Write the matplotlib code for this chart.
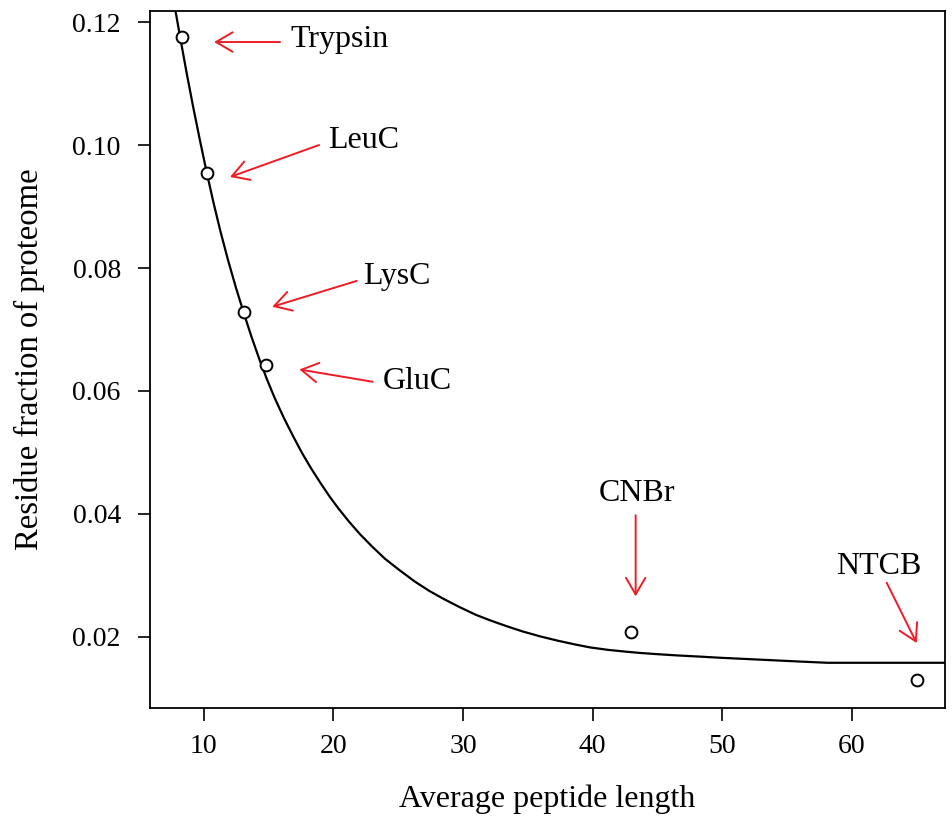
import matplotlib
matplotlib.use('Agg')
import matplotlib.pyplot as plt

plt.rcParams['font.family'] = ['Liberation Serif', 'DejaVu Serif']

# enzymes: average peptide length vs residue fraction
enzymes = ['Trypsin', 'LeuC', 'LysC', 'GluC', 'CNBr', 'NTCB']
pep_len = [8.32, 10.25, 13.12, 14.82, 42.96, 65.0]
res_frac = [0.1176, 0.0954, 0.0728, 0.0642, 0.0208, 0.0130]

# fitted curve
fit_x = [7.84, 8.19, 8.7, 9.2, 9.7, 10.25, 10.76, 11.3, 11.9, 12.5, 13.1, 13.7,
         14.3, 14.89, 15.5, 16.2, 16.92, 17.6, 18.3, 19.0, 19.7, 20.4, 21.2,
         22.07, 23.0, 24.0, 25.15, 26.3, 27.4, 28.5, 29.7, 31.0, 32.1, 33.3,
         34.6, 35.95, 37.3, 38.6, 39.8, 41.2, 42.6, 43.66, 45.0, 46.5, 48.3,
         50.0, 52.0, 54.0, 56.0, 58.1, 67.2]
fit_y = [0.1218, 0.1176, 0.1117, 0.1062, 0.1010, 0.0955, 0.0907, 0.0860, 0.0812,
         0.0768, 0.0727, 0.0688, 0.0652, 0.0619, 0.0588, 0.0556, 0.0526, 0.0499,
         0.0474, 0.0451, 0.0429, 0.0409, 0.0388, 0.0367, 0.0347, 0.0327, 0.0308,
         0.0290, 0.0275, 0.0262, 0.0249, 0.0236, 0.0227, 0.0218, 0.0209, 0.0201,
         0.0194, 0.0188, 0.0183, 0.0179, 0.0176, 0.0174, 0.0172, 0.0170, 0.0168,
         0.0166, 0.0164, 0.0162, 0.0160, 0.0158, 0.0158]

xticks = [10, 20, 30, 40, 50, 60]
yticks = [0.02, 0.04, 0.06, 0.08, 0.10, 0.12]

fig = plt.figure(figsize=(9.52, 8.18), dpi=100)
ax = fig.add_axes([0.1576, 0.1345, 0.835, 0.852])

ax.plot(fit_x, fit_y, color='black', lw=1.6, zorder=2)
ax.plot(pep_len, res_frac, 'o', mfc='white', mec='black', ms=8.5, mew=1.4, zorder=3)

# label text position, arrow tail, arrow head (data coords)
text_pos = [(16.67, 0.1171, 'left'), (19.58, 0.1008, 'left'), (22.30, 0.0787, 'left'),
            (23.82, 0.0616, 'left'), (43.40, 0.0433, 'center'), (62.10, 0.0315, 'center')]
tails = [(15.90, 0.11675), (18.91, 0.1000), (21.81, 0.0779), (23.05, 0.0615),
         (43.32, 0.0398), (62.68, 0.0288)]
heads = [(10.81, 0.11675), (12.04, 0.0948), (15.30, 0.0737), (17.39, 0.0635),
         (43.32, 0.0266), (64.99, 0.0190)]

for name, (tx, ty, ha), t, h in zip(enzymes, text_pos, tails, heads):
    ax.text(tx, ty, name, fontsize=23, ha=ha, va='center')
    ax.annotate('', xy=h, xytext=t,
                arrowprops=dict(arrowstyle='->,head_length=0.6,head_width=0.35',
                                color='#ee1c25', lw=1.4, mutation_scale=20,
                                shrinkA=0, shrinkB=0))

ax.set_xlim(5.875, 67.17)
ax.set_ylim(0.00845, 0.12179)
ax.set_xticks(xticks)
ax.set_xticklabels([str(v) for v in xticks])
ax.set_yticks(yticks)
ax.set_yticklabels(['%.2f' % v for v in yticks])
ax.tick_params(direction='out', length=9, width=1.2, labelsize=20)
ax.tick_params(axis='x', pad=10)
ax.tick_params(axis='y', pad=12)
for s in ax.spines.values():
    s.set_linewidth(1.3)

ax.set_xlabel('Average peptide length', fontsize=23, labelpad=18)
ax.set_ylabel('Residue fraction of proteome', fontsize=23.5, labelpad=20)

plt.savefig('out.png', dpi=100)
